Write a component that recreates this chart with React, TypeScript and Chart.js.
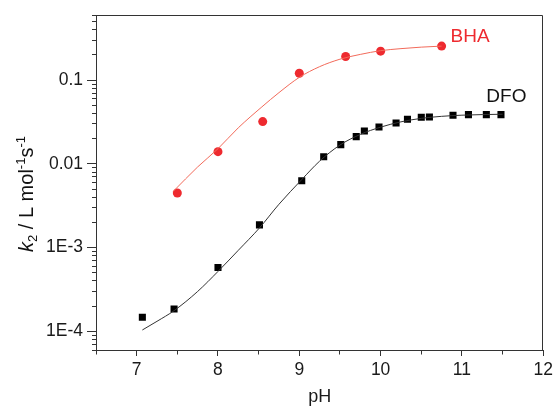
import React, { useEffect, useRef } from 'react';
import { Chart, registerables } from 'chart.js';

Chart.register(...registerables);

const FONT = "'Liberation Sans', Arial, Helvetica, sans-serif";

// Measured data (pH, k2)
const bhaPH = [7.5, 8.0, 8.55, 9.0, 9.57, 10.0, 10.75];
const bhaK = [0.0045, 0.014, 0.032, 0.121, 0.192, 0.222, 0.255];

const dfoPH = [7.07, 7.46, 8.0, 8.51, 9.03, 9.3, 9.51, 9.7, 9.8, 9.98, 10.19, 10.33, 10.5, 10.6, 10.89, 11.08, 11.3, 11.48];
const dfoK = [1.48e-4, 1.85e-4, 5.8e-4, 1.87e-3, 6.3e-3, 0.0122, 0.017, 0.0212, 0.0247, 0.0276, 0.0308, 0.0341, 0.0361, 0.0363, 0.0381, 0.0388, 0.0388, 0.0388];

// Fitted curves
const bhaFitPH = [7.45, 7.75, 8.0, 8.25, 8.54, 8.75, 9.0, 9.25, 9.5, 9.75, 10.0, 10.25, 10.5, 10.75];
const bhaFitK = [0.0047, 0.0092, 0.0152, 0.027, 0.048, 0.071, 0.108, 0.145, 0.178, 0.203, 0.225, 0.238, 0.248, 0.255];

const dfoFitPH = [7.07, 7.25, 7.46, 7.75, 8.0, 8.25, 8.51, 8.75, 9.03, 9.25, 9.5, 9.75, 10.0, 10.25, 10.5, 10.75, 11.0, 11.25, 11.5];
const dfoFitK = [1.04e-4, 1.32e-4, 1.77e-4, 3.0e-4, 5.2e-4, 9.3e-4, 1.72e-3, 3.3e-3, 6.5e-3, 0.0108, 0.0168, 0.0225, 0.0275, 0.0318, 0.035, 0.037, 0.0382, 0.0388, 0.0392];

// Axes
const xMin = 6.5;
const xMax = 12;
const xTicks = [6.5, 7, 7.5, 8, 8.5, 9, 9.5, 10, 10.5, 11, 11.5, 12];
const xTickLabels = ['', '7', '', '8', '', '9', '', '10', '', '11', '', '12'];

const yMin = 6e-5;
const yMax = 0.6;
const yDecades = [1e-5, 1e-4, 1e-3, 1e-2, 1e-1];
const yMajorValues = [1e-4, 1e-3, 0.01, 0.1];
const yMajorLabels = ['1E-4', '1E-3', '0.01', '0.1'];

// Series labels in the plot
const seriesNames = ['BHA', 'DFO'];
const seriesNameColors = ['#ee2a2f', '#111111'];
const seriesNameAnchors = [
  { x: 10.86, y: 0.33 },
  { x: 11.3, y: 0.064 },
];

const AXIS = '#333333';

const yTickValues = (() => {
  const out: number[] = [];
  for (const d of yDecades) {
    for (let m = 1; m <= 9; m++) {
      const v = d * m;
      if (v >= yMin * 0.999 && v <= yMax * 1.001) out.push(v);
    }
  }
  return out;
})();

const isDecade = (v: number) => yMajorValues.some((d) => Math.abs(v - d) / d < 1e-6);
const decadeLabel = (v: number) => {
  const i = yMajorValues.findIndex((d) => Math.abs(v - d) / d < 1e-6);
  return i >= 0 ? yMajorLabels[i] : '';
};

const pts = (xs: number[], ys: number[]) => xs.map((x, i) => ({ x, y: ys[i] }));

const framePlugin = {
  id: 'frame',
  afterDraw(chart: any) {
    const { ctx, chartArea } = chart;
    ctx.save();
    ctx.strokeStyle = AXIS;
    ctx.lineWidth = 1;
    ctx.beginPath();
    const t = Math.round(chartArea.top) + 0.5;
    const r = Math.round(chartArea.right) - 0.5;
    const l = Math.round(chartArea.left) - 0.5;
    ctx.moveTo(l, t);
    ctx.lineTo(r, t);
    ctx.lineTo(r, Math.round(chartArea.bottom) + 0.5);
    ctx.stroke();
    ctx.restore();
  },
};

const yTitlePlugin = {
  id: 'yTitle',
  afterDraw(chart: any) {
    const { ctx } = chart;
    const main = 20;
    const small = 13;
    const segs = [
      { t: 'k', size: main, italic: true, dy: 0 },
      { t: '2', size: small, italic: false, dy: 4 },
      { t: ' / L mol', size: main, italic: false, dy: 0 },
      { t: '-1', size: small, italic: false, dy: -8 },
      { t: 's', size: main, italic: false, dy: 0 },
      { t: '-1', size: small, italic: false, dy: -8 },
    ];
    ctx.save();
    let total = 0;
    const widths = segs.map((s) => {
      ctx.font = `${s.italic ? 'italic ' : ''}${s.size}px ${FONT}`;
      const w = ctx.measureText(s.t).width;
      total += w;
      return w;
    });
    const cy = 194;
    const bx = 33;
    ctx.translate(bx, cy + total / 2);
    ctx.rotate(-Math.PI / 2);
    ctx.fillStyle = '#111';
    ctx.textBaseline = 'alphabetic';
    ctx.textAlign = 'left';
    let u = 0;
    segs.forEach((s, i) => {
      ctx.font = `${s.italic ? 'italic ' : ''}${s.size}px ${FONT}`;
      ctx.fillText(s.t, u, s.dy);
      u += widths[i];
    });
    ctx.restore();
  },
};

const seriesLabelPlugin = {
  id: 'seriesLabels',
  afterDraw(chart: any) {
    const { ctx, scales } = chart;
    ctx.save();
    ctx.font = `19px ${FONT}`;
    ctx.textAlign = 'left';
    ctx.textBaseline = 'middle';
    seriesNames.forEach((name, i) => {
      ctx.fillStyle = seriesNameColors[i];
      const a = seriesNameAnchors[i];
      ctx.fillText(name, scales.x.getPixelForValue(a.x), scales.y.getPixelForValue(a.y));
    });
    ctx.restore();
  },
};

export default function App() {
  const ref = useRef<HTMLCanvasElement | null>(null);

  useEffect(() => {
    document.body.style.margin = '0';
    const canvas = ref.current;
    if (!canvas) return;
    const chart = new Chart(canvas, {
      type: 'scatter',
      data: {
        datasets: [
          {
            label: 'BHA fit',
            data: pts(bhaFitPH, bhaFitK),
            showLine: true,
            borderColor: '#f26a5a',
            borderWidth: 1,
            pointRadius: 0,
            cubicInterpolationMode: 'monotone',
            fill: false,
          },
          {
            label: 'DFO fit',
            data: pts(dfoFitPH, dfoFitK),
            showLine: true,
            borderColor: '#333333',
            borderWidth: 1,
            pointRadius: 0,
            cubicInterpolationMode: 'monotone',
            fill: false,
          },
          {
            label: 'BHA',
            data: pts(bhaPH, bhaK),
            showLine: false,
            pointStyle: 'circle',
            pointRadius: 4.5,
            backgroundColor: '#ee2a2f',
            borderColor: '#ee2a2f',
            borderWidth: 0,
          },
          {
            label: 'DFO',
            data: pts(dfoPH, dfoK),
            showLine: false,
            pointStyle: 'rect',
            pointRadius: 5,
            backgroundColor: '#000000',
            borderColor: '#000000',
            borderWidth: 0,
          },
        ],
      } as any,
      options: {
        animation: false,
        responsive: false,
        maintainAspectRatio: false,
        layout: { padding: { top: 15, right: 12, left: 0, bottom: 0 } },
        plugins: {
          legend: { display: false },
          tooltip: { enabled: false },
          title: { display: false },
        },
        scales: {
          x: {
            type: 'linear',
            min: xMin,
            max: xMax,
            afterBuildTicks: (s: any) => {
              s.ticks = xTicks.map((v) => ({ value: v }));
            },
            afterFit: (s: any) => {
              s.height = 59;
            },
            ticks: {
              autoSkip: false,
              maxRotation: 0,
              padding: 4,
              color: '#1a1a1a',
              font: { family: FONT, size: 17.5 },
              callback: (v: any) => {
                const i = xTicks.findIndex((t) => Math.abs(t - Number(v)) < 1e-9);
                return i >= 0 ? xTickLabels[i] : '';
              },
            },
            grid: {
              drawOnChartArea: false,
              tickLength: 6,
              tickColor: AXIS,
              tickWidth: 1,
              tickBorderDash: (ctx: any) => {
                const v = ctx.tick ? ctx.tick.value : 0;
                return Math.abs(v - Math.round(v)) > 1e-9 ? [3.5, 20] : [];
              },
            },
            border: { display: true, color: AXIS, width: 1 },
            title: {
              display: true,
              text: 'pH',
              color: '#1a1a1a',
              font: { family: FONT, size: 18 },
              padding: { top: 0, bottom: 1 },
            },
          },
          y: {
            type: 'logarithmic',
            min: yMin,
            max: yMax,
            afterBuildTicks: (s: any) => {
              s.ticks = yTickValues.map((v) => ({ value: v, major: isDecade(v) }));
            },
            afterFit: (s: any) => {
              s.width = 96;
            },
            ticks: {
              autoSkip: false,
              padding: 4,
              color: '#1a1a1a',
              font: { family: FONT, size: 17.5 },
              callback: (v: any) => decadeLabel(Number(v)),
            },
            grid: {
              drawOnChartArea: false,
              tickLength: 9,
              tickColor: AXIS,
              tickWidth: 1,
              tickBorderDash: (ctx: any) => {
                const v = ctx.tick ? ctx.tick.value : 0;
                return isDecade(v) ? [] : [0, 5, 20];
              },
            },
            border: { display: true, color: AXIS, width: 1 },
            title: { display: false },
          },
        },
      } as any,
      plugins: [framePlugin, yTitlePlugin, seriesLabelPlugin],
    });
    return () => chart.destroy();
  }, []);

  return (
    <div style={{ width: 557, height: 409, background: '#fff' }}>
      <canvas ref={ref} width={557} height={409} style={{ display: 'block', width: 557, height: 409 }} />
    </div>
  );
}
